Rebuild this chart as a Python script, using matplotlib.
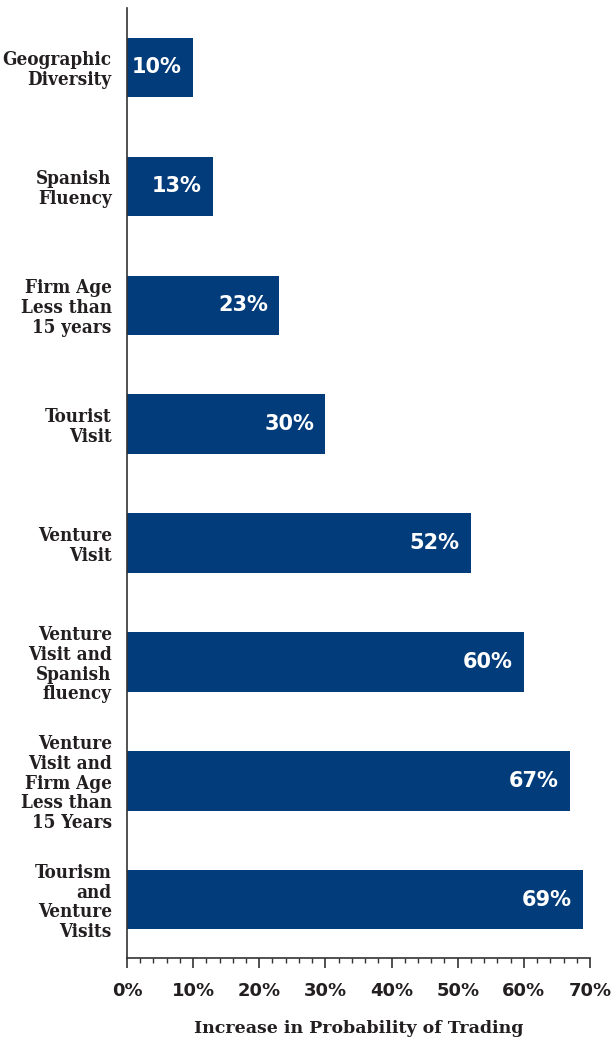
import numpy as np
from matplotlib import pyplot as plt
from matplotlib.ticker import MultipleLocator, FuncFormatter

categories = [
    'Geographic\nDiversity',
    'Spanish\nFluency',
    'Firm Age\nLess than\n15 years',
    'Tourist\nVisit',
    'Venture\nVisit',
    'Venture\nVisit and\nSpanish\nfluency',
    'Venture\nVisit and\nFirm Age\nLess than\n15 Years',
    'Tourism\nand\nVenture\nVisits',
]
values = [10, 13, 23, 30, 52, 60, 67, 69]
bar_labels = ['10%', '13%', '23%', '30%', '52%', '60%', '67%', '69%']

bar_color = '#023c7a'
text_color = '#231f20'

fig = plt.figure(figsize=(6.12, 10.38), dpi=100)
ax = fig.add_axes([0.2075, 0.0771, 0.7565, 0.9152])

y = np.arange(len(values))
bars = ax.barh(y, values, height=0.5, color=bar_color)

for bar, lab in zip(bars, bar_labels):
    ax.text(bar.get_width() - 1.7, bar.get_y() + bar.get_height() / 2, lab,
            ha='right', va='center', color='white', fontsize=15,
            fontweight='bold', family='DejaVu Sans')

ax.set_ylim(7.49, -0.5)
ax.set_xlim(0, 70)
ax.set_yticks(y)
ax.set_yticklabels(categories, family='DejaVu Serif', fontweight='bold',
                   fontstretch='condensed', fontsize=13.5, color=text_color,
                   linespacing=1.12)
ax.tick_params(axis='y', length=0, pad=11)

ax.xaxis.set_major_locator(MultipleLocator(10))
ax.xaxis.set_minor_locator(MultipleLocator(2))
ax.xaxis.set_major_formatter(FuncFormatter(lambda v, p: f'{v:.0f}%'))
ax.tick_params(axis='x', which='major', length=7, width=1.2, color='#333333',
               labelsize=13, labelcolor=text_color, pad=10)
ax.tick_params(axis='x', which='minor', length=3.5, width=1, color='#333333')
for t in ax.get_xticklabels():
    t.set_fontweight('bold')
    t.set_family('DejaVu Sans')

ax.set_xlabel('Increase in Probability of Trading', family='DejaVu Serif',
              fontweight='bold', fontsize=12.5, color=text_color, labelpad=15)

for side in ['top', 'right']:
    ax.spines[side].set_visible(False)
for side in ['left', 'bottom']:
    ax.spines[side].set_color('#333333')
    ax.spines[side].set_linewidth(1.2)

plt.savefig('out.png', dpi=100)
